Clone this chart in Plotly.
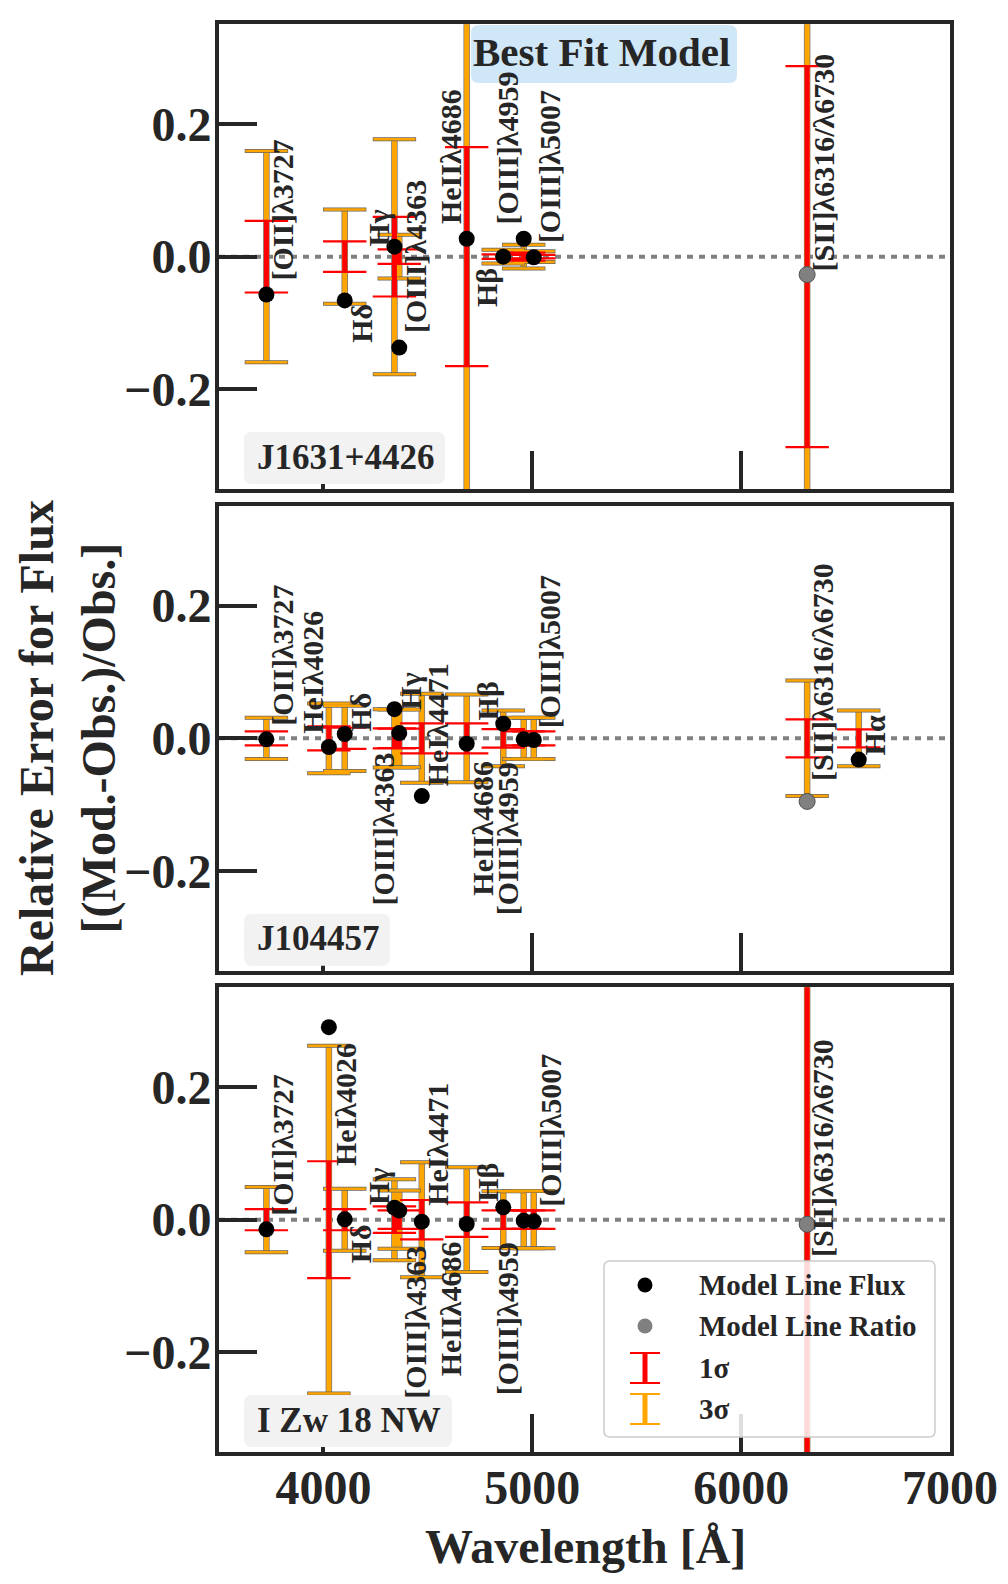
import plotly.graph_objects as go

# ---------------- data ----------------
# Panel 1 : J1631+4426
name1 = "J1631+4426"
lines1 = ["[OII]λ3727", "Hδ", "Hγ", "[OIII]λ4363", "HeIIλ4686", "Hβ",
          "[OIII]λ4959", "[OIII]λ5007", "[SII]λ6316/λ6730"]
wave1 = [3727, 4102, 4340, 4363, 4686, 4861, 4959, 5007, 6316]
rel1 = [-0.057, -0.066, 0.015, -0.137, 0.027, 0.000, 0.027, -0.001, -0.027]
sig1_1 = [0.054, 0.023, 0.060, 0.011, 0.165, 0.0035, 0.006, 0.0027, 0.287]
sig3_1 = [0.159, 0.071, 0.177, 0.033, 0.495, 0.0105, 0.018, 0.008, 0.860]
ratio1 = [False, False, False, False, False, False, False, False, True]

# Panel 2 : J104457
name2 = "J104457"
lines2 = ["[OII]λ3727", "HeIλ4026", "Hδ", "Hγ", "[OIII]λ4363", "HeIλ4471",
          "HeIIλ4686", "Hβ", "[OIII]λ4959", "[OIII]λ5007", "[SII]λ6316/λ6730", "Hα"]
wave2 = [3727, 4026, 4102, 4340, 4363, 4471, 4686, 4861, 4959, 5007, 6316, 6563]
rel2 = [-0.0015, -0.013, 0.0065, 0.044, 0.008, -0.087, -0.008, 0.022, -0.0015,
        -0.0025, -0.095, -0.032]
sig1_2 = [0.0105, 0.018, 0.016, 0.015, 0.0145, 0.0226, 0.0226, 0.014, 0.0105,
          0.0105, 0.0286, 0.0136]
sig3_2 = [0.031, 0.0525, 0.049, 0.044, 0.0435, 0.067, 0.066, 0.042, 0.031,
          0.031, 0.087, 0.042]
ratio2 = [False] * 10 + [True, False]

# Panel 3 : I Zw 18 NW
name3 = "I Zw 18 NW"
lines3 = ["[OII]λ3727", "HeIλ4026", "Hδ", "Hγ", "[OIII]λ4363", "HeIλ4471",
          "HeIIλ4686", "Hβ", "[OIII]λ4959", "[OIII]λ5007", "[SII]λ6316/λ6730"]
wave3 = [3727, 4026, 4102, 4340, 4363, 4471, 4686, 4861, 4959, 5007, 6316]
rel3 = [-0.0146, 0.290, 0.0005, 0.018, 0.0136, -0.003, -0.0065, 0.0186, -0.0015,
        -0.0025, -0.007]
sig1_3 = [0.016, 0.088, 0.016, 0.020, 0.014, 0.0296, 0.026, 0.014, 0.014, 0.014, 0.60]
sig3_3 = [0.049, 0.262, 0.0467, 0.061, 0.044, 0.0866, 0.079, 0.0427, 0.043, 0.043, 1.80]
ratio3 = [False] * 10 + [True]

xticks = [4000, 5000, 6000, 7000]
yticks = [-0.2, 0.0, 0.2]

# label placement (value-axis centre of each rotated label, side of the bar)
laby1 = [0.070, -0.100, 0.043, 0.000, 0.151, -0.047, 0.164, 0.136, 0.142]
labs1 = [1, 1, -1, 1, -1, -1, -1, 1, 1]
laby2 = [0.125, 0.100, 0.040, 0.071, -0.137, 0.021, -0.135, 0.056, -0.151, 0.131, 0.100, 0.004]
labs2 = [1, -1, 1, 1, -1, 1, 1, -1, -1, 1, 1, 1]
laby3 = [0.112, 0.174, -0.036, 0.050, -0.155, 0.114, -0.134, 0.056, -0.149, 0.135, 0.108]
labs3 = [1, 1, 1, -1, 1, 1, -1, -1, -1, 1, 1]

# ---------------- figure ----------------
W, H = 1008, 1584
ML, MR, MT, MB = 211, 66, 16, 140
PW, PH = W - ML - MR, H - MT - MB
DARK = "#262626"
FONT = "Liberation Serif"
ORANGE = "#ffa500"
RED = "#ff0000"

def pp(X, Y):
    return (X - ML) / PW, (H - MB - Y) / PH

def rrect(x0, y0, x1, y1, r):
    def P(X, Y):
        a, b = pp(X, Y)
        return f"{a:.5f},{b:.5f}"
    return (f"M{P(x0 + r, y0)} L{P(x1 - r, y0)} Q{P(x1, y0)} {P(x1, y0 + r)} "
            f"L{P(x1, y1 - r)} Q{P(x1, y1)} {P(x1 - r, y1)} L{P(x0 + r, y1)} "
            f"Q{P(x0, y1)} {P(x0, y1 - r)} L{P(x0, y0 + r)} Q{P(x0, y0)} {P(x0 + r, y0)} Z")

def ptext(X, Y, text, size, **kw):
    xp, yp = pp(X, Y)
    d = dict(x=xp, y=yp, xref="paper", yref="paper", text=text, showarrow=False,
             xanchor="center", yanchor="middle",
             font=dict(family=FONT, size=size, color=DARK, weight="bold"))
    d.update(kw)
    return d

panels = [
    (name1, lines1, wave1, rel1, sig1_1, sig3_1, ratio1, laby1, labs1),
    (name2, lines2, wave2, rel2, sig1_2, sig3_2, ratio2, laby2, labs2),
    (name3, lines3, wave3, rel3, sig1_3, sig3_3, ratio3, laby3, labs3),
]
# frame pixel boxes (top, bottom)
frames = [(16.3, 481.0), (498.0, 962.7), (979.3, 1444.0)]
namebox_right = [437, 382, 444]

fig = go.Figure()
shapes, annos = [], []

for i, (nm, labs, wv, rel, s1, s3, isr, ly, ls) in enumerate(panels, start=1):
    xa, ya = ("x" if i == 1 else f"x{i}"), ("y" if i == 1 else f"y{i}")
    zeros = [0.0] * len(wv)
    # 3 sigma bars (thin outline + fill)
    fig.add_trace(go.Scatter(x=wv, y=zeros, mode="markers", xaxis=xa, yaxis=ya,
                             marker=dict(size=0, color="rgba(0,0,0,0)"),
                             error_y=dict(type="data", array=s3, symmetric=True,
                                          color="#777777", thickness=6.5, width=0),
                             hoverinfo="skip", showlegend=False))
    fig.add_trace(go.Scatter(x=wv, y=zeros, mode="markers", xaxis=xa, yaxis=ya,
                             marker=dict(size=0, color="rgba(0,0,0,0)"),
                             error_y=dict(type="data", array=s3, symmetric=True,
                                          color=ORANGE, thickness=5, width=0),
                             hoverinfo="skip", showlegend=False))
    cx = wv + wv
    cy3 = [v for v in s3] + [-v for v in s3]
    fig.add_trace(go.Scatter(x=cx, y=cy3, mode="markers", xaxis=xa, yaxis=ya,
                             marker=dict(symbol="line-ew", size=31,
                                         line=dict(color="#666666", width=4)),
                             hoverinfo="skip", showlegend=False))
    fig.add_trace(go.Scatter(x=cx, y=cy3, mode="markers", xaxis=xa, yaxis=ya,
                             marker=dict(symbol="line-ew", size=30,
                                         line=dict(color=ORANGE, width=2.5)),
                             hoverinfo="skip", showlegend=False))
    # 1 sigma bars
    fig.add_trace(go.Scatter(x=wv, y=zeros, mode="markers", xaxis=xa, yaxis=ya,
                             marker=dict(size=0, color="rgba(0,0,0,0)"),
                             error_y=dict(type="data", array=s1, symmetric=True,
                                          color=RED, thickness=5, width=0),
                             hoverinfo="skip", showlegend=False))
    cy1 = [v for v in s1] + [-v for v in s1]
    fig.add_trace(go.Scatter(x=cx, y=cy1, mode="markers", xaxis=xa, yaxis=ya,
                             marker=dict(symbol="line-ew", size=31,
                                         line=dict(color=RED, width=2.2)),
                             hoverinfo="skip", showlegend=False))
    # model points
    fx = [w for w, r in zip(wv, isr) if not r]
    fy = [v for v, r in zip(rel, isr) if not r]
    rx = [w for w, r in zip(wv, isr) if r]
    ry = [v for v, r in zip(rel, isr) if r]
    fig.add_trace(go.Scatter(x=fx, y=fy, mode="markers", xaxis=xa, yaxis=ya,
                             marker=dict(size=16, color="black"),
                             name="Model Line Flux", showlegend=False))
    fig.add_trace(go.Scatter(x=rx, y=ry, mode="markers", xaxis=xa, yaxis=ya,
                             marker=dict(size=16, color="#808080",
                                         line=dict(color="#505050", width=1)),
                             name="Model Line Ratio", showlegend=False))
    # zero line
    shapes.append(dict(type="line", xref=f"{xa} domain", x0=0, x1=1, yref=ya, y0=0, y1=0,
                       line=dict(color="#808080", width=4, dash="6px,6px"), layer="below"))
    # line labels
    for lab, w, yv, sd in zip(labs, wv, ly, ls):
        annos.append(dict(x=w, y=yv, xref=xa, yref=ya, text=lab, showarrow=False,
                          textangle=-90, xshift=16 * sd, xanchor="center", yanchor="middle",
                          font=dict(family=FONT, size=30, color=DARK, weight="bold")))
    # panel name box
    top, bot = frames[i - 1]
    shapes.append(dict(type="path", xref="paper", yref="paper",
                       path=rrect(236, bot - 57, namebox_right[i - 1], bot - 5, 8),
                       fillcolor="#f2f2f2", line=dict(width=0), layer="above"))
    annos.append(ptext(247, bot - 32, nm, 35, xanchor="left"))

# Best Fit Model box
shapes.append(dict(type="path", xref="paper", yref="paper",
                   path=rrect(463, 17, 729, 75, 8),
                   fillcolor="#cfe7f7", line=dict(width=0), layer="above"))
annos.append(ptext(593, 44, "Best Fit Model", 41))

# legend (drawn)
shapes.append(dict(type="path", xref="paper", yref="paper",
                   path=rrect(596, 1253, 927, 1429, 6),
                   fillcolor="rgba(255,255,255,0.85)", line=dict(color="#cccccc", width=1.5),
                   layer="above"))
for (yy, col) in [(1277, "black"), (1318, "#808080")]:
    a0, b0 = pp(629.5, yy - 7.5)
    a1, b1 = pp(644.5, yy + 7.5)
    shapes.append(dict(type="circle", xref="paper", yref="paper", x0=a0, x1=a1, y0=b1, y1=b0,
                       fillcolor=col, line=dict(width=0), layer="above"))
for (yc, col) in [(1360, RED), (1401, ORANGE)]:
    a0, b0 = pp(637, yc - 15)
    a1, b1 = pp(637, yc + 15)
    shapes.append(dict(type="line", xref="paper", yref="paper", x0=a0, x1=a1, y0=b0, y1=b1,
                       line=dict(color=col, width=5), layer="above"))
    for yy in (yc - 15, yc + 15):
        a0, b0 = pp(622, yy)
        a1, b1 = pp(652, yy)
        shapes.append(dict(type="line", xref="paper", yref="paper", x0=a0, x1=a1, y0=b0, y1=b1,
                           line=dict(color=col, width=2), layer="above"))
for txt, yy in [("Model Line Flux", 1277), ("Model Line Ratio", 1318), ("1σ", 1360), ("3σ", 1401)]:
    annos.append(ptext(689, yy, txt, 29, xanchor="left"))

# axis titles
annos.append(ptext(60, 730, "Relative Error for Flux<br>[(Mod.-Obs.)/Obs.]", 48, textangle=-90))
annos.append(ptext(577, 1538, "Wavelength [Å]", 48))

common = dict(showline=True, linewidth=4, linecolor=DARK, mirror=True, ticks="inside",
              ticklen=38, tickwidth=4, tickcolor=DARK, showgrid=False, zeroline=False,
              automargin=False,
              tickfont=dict(family=FONT, size=48, color=DARK, weight="bold"))
layout = {}
for i in (1, 2, 3):
    top, bot = frames[i - 1]
    d0 = max(0.0, (H - MB - bot) / PH)
    d1 = min(1.0, (H - MB - top) / PH)
    xk = "xaxis" if i == 1 else f"xaxis{i}"
    yk = "yaxis" if i == 1 else f"yaxis{i}"
    layout[xk] = dict(common, domain=[0, 1], range=[3500, 7000], tickvals=xticks,
                      anchor="y" if i == 1 else f"y{i}", showticklabels=(i == 3),
                      ticklabelstandoff=-10)
    layout[yk] = dict(common, domain=[d0, d1], range=[-0.35, 0.35], tickvals=yticks,
                      tickformat=".1f", anchor="x" if i == 1 else f"x{i}",
                      ticklabelstandoff=-6)

fig.update_layout(**layout)
fig.update_layout(width=W, height=H, margin=dict(l=ML, r=MR, t=MT, b=MB, autoexpand=False),
                  paper_bgcolor="white", plot_bgcolor="white", showlegend=False,
                  shapes=shapes, annotations=annos,
                  font=dict(family=FONT, color=DARK))
fig.write_html("out.html")
